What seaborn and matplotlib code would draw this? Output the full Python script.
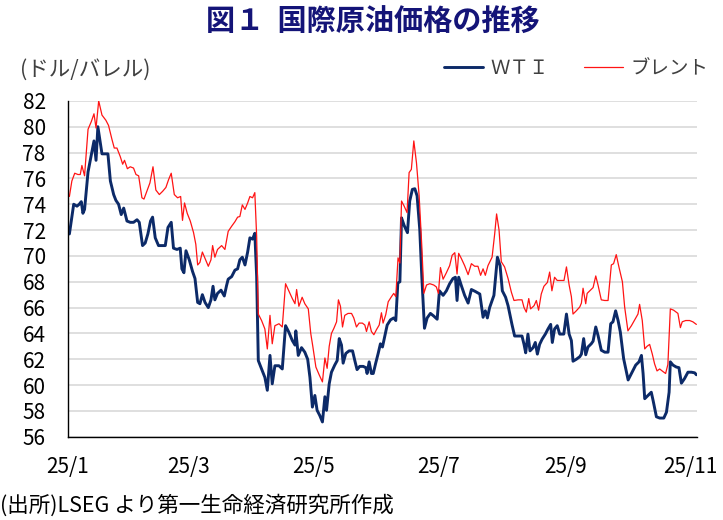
import pandas as pd
import numpy as np
import matplotlib.pyplot as plt
import seaborn as sns

# days counted from 2025-01-01, values in USD/bbl
wti_days = [0.7, 2.8, 4.4, 5.5, 6.5, 7.3, 8.1, 9.8, 11.4, 12.7, 13.7, 14.6, 16.6, 19.5, 20.7,
            22.3, 23.4, 24.7, 26.0, 27.2, 28.8, 30.4, 32.0, 33.7, 34.8, 36.4, 37.7, 39.0, 40.3,
            41.3, 42.6, 44.2, 47.5, 48.8, 50.4, 51.5, 53.2, 54.8, 55.6, 56.6, 57.6, 59.2, 60.8,
            62.0, 63.3, 64.4, 65.6, 66.9, 68.5, 69.8, 70.8, 71.7, 73.0, 74.7, 76.3, 77.4, 78.2,
            79.9, 81.5, 82.8, 83.9, 85.1, 86.4, 87.7, 88.8, 90.1, 91.2, 92.1, 92.9, 94.5, 96.1,
            97.3, 98.6, 99.7, 101.0, 103.0, 104.6, 106.2, 107.8, 109.5, 110.8, 111.2, 112.4,
            114.0, 115.6, 117.0, 118.1, 119.3, 120.5, 121.6, 122.9, 124.2, 125.4, 126.2, 127.5,
            128.6, 130.2, 131.4, 132.4, 133.5, 134.3, 135.6, 137.2, 138.9, 140.0, 141.1, 142.4,
            144.1, 145.4, 146.0, 147.0, 148.1, 149.0, 150.2, 151.4, 152.5, 153.5, 154.6, 155.8,
            157.4, 159.0, 160.0, 161.0, 162.0, 162.8, 164.1, 165.7, 166.8, 168.1, 169.3, 170.4,
            171.7, 172.7, 174.0, 175.3, 176.9, 178.5, 180.2, 181.3, 183.1, 184.7, 186.3, 187.9,
            189.1, 189.9, 190.7, 192.0, 193.6, 195.3, 196.9, 198.8, 201.0, 202.6, 203.7, 204.7,
            205.8, 207.9, 209.6, 210.9, 212.0, 213.6, 214.8, 216.7, 218.0, 219.7, 221.6, 222.6,
            223.4, 224.5, 225.5, 227.0, 228.1, 229.1, 230.2, 231.4, 233.0, 234.3, 235.6, 236.4,
            237.5, 238.8, 240.0, 242.0, 243.3, 244.6, 245.7, 246.5, 248.1, 249.8, 250.6, 251.7,
            252.7, 253.8, 255.4, 256.3, 257.6, 258.7, 260.3, 262.0, 263.6, 264.9, 266.0, 267.3,
            268.5, 269.6, 271.2, 273.4, 275.0, 277.1, 278.7, 279.9, 280.7, 281.5, 283.1, 284.7,
            285.6, 287.2, 288.8, 290.8, 292.1, 293.4, 294.0, 295.3, 296.9, 298.2, 299.4, 300.9,
            302.6, 304.3, 305.9, 306.7]
wti = [71.7, 74.0, 73.85, 74.0, 74.2, 73.3, 73.6, 76.5, 77.8, 78.9, 77.4, 80.0, 77.9, 77.9, 75.8,
       74.75, 74.3, 74.0, 73.2, 73.7, 72.7, 72.6, 72.6, 72.8, 72.6, 70.8, 71.0, 71.7, 72.7,
       73.0, 71.4, 70.8, 70.8, 72.2, 72.6, 70.6, 70.5, 70.6, 69.0, 68.7, 70.4, 69.7, 68.8,
       68.25, 66.4, 66.3, 67.0, 66.4, 66.0, 66.6, 67.65, 66.6, 67.1, 67.35, 66.9, 67.7, 68.2,
       68.4, 68.9, 69.0, 69.7, 69.9, 69.3, 70.3, 71.4, 71.3, 71.75, 68.4, 61.9, 61.25, 60.6,
       59.6, 62.3, 60.1, 61.5, 61.5, 61.25, 64.6, 64.1, 63.45, 63.1, 64.2, 62.3,
       62.9, 62.55, 62.0, 60.6, 58.3, 59.2, 58.05, 57.65, 57.15, 59.1, 58.05, 60.1,
       61.0, 61.55, 61.9, 63.6, 63.1, 61.7, 62.45, 62.65, 62.65, 61.9, 61.2, 61.45,
       61.45, 61.35, 60.9, 61.8, 60.9, 60.9, 61.7, 62.45, 63.2, 62.95, 63.75, 64.65,
       65.05, 65.2, 65.0, 67.9, 68.0, 72.95, 72.35, 71.8, 74.25, 75.15, 75.2, 74.65,
       72.05, 68.4, 64.4, 65.2, 65.55, 65.35, 65.1, 67.3, 66.95, 67.3, 67.85, 68.25,
       68.35, 66.55, 68.35, 67.7, 66.95, 66.35, 67.4, 67.25, 67.05, 65.25, 65.75, 65.2,
       66.0, 66.95, 69.9, 69.25, 67.3, 66.8, 66.15, 64.7, 63.8, 63.8, 63.8, 63.15,
       62.5, 63.95, 62.65, 62.9, 63.3, 62.4, 63.15, 63.55, 63.95, 64.35, 64.7, 63.3,
       64.35, 64.6, 63.95, 63.95, 65.5, 63.95, 63.45, 61.85, 62.0, 62.2, 62.4, 63.6,
       62.35, 62.95, 63.2, 63.4, 64.5, 63.85, 62.7, 62.55, 62.55, 64.75, 64.9, 65.75,
       65.0, 64.1, 62.05, 60.4, 60.9, 61.55, 61.8, 62.3, 60.9, 58.95, 59.2, 59.45,
       58.8, 57.55, 57.45, 57.45, 57.9, 59.45, 61.8, 61.55, 61.4, 61.35, 60.15, 60.5,
       61.0, 61.0, 60.95, 60.8]

brent_days = [0.7, 1.9, 3.3, 4.9, 6.0, 6.8, 8.1, 9.8, 11.4, 12.7, 13.7, 15.0, 16.6, 18.5, 19.8,
              21.5, 22.6, 23.9, 25.5, 26.7, 27.6, 29.0, 30.4, 32.0, 33.2, 34.5, 36.1, 37.1, 38.5,
              40.0, 41.5, 42.9, 44.6, 46.2, 47.8, 49.1, 50.4, 51.9, 53.5, 55.0, 55.9, 56.9, 58.2,
              59.7, 61.3, 62.4, 63.3, 64.4, 65.6, 66.9, 68.5, 69.8, 70.6, 71.7, 73.0, 75.0, 76.6,
              78.2, 79.9, 81.5, 82.8, 83.9, 85.1, 86.4, 87.7, 88.8, 90.1, 91.2, 92.1, 92.9, 94.5,
              96.1, 97.3, 98.6, 99.7, 101.0, 103.0, 104.6, 106.2, 107.8, 109.5, 110.8, 111.6,
              112.7, 114.3, 115.6, 117.3, 118.5, 119.5, 121.0, 122.6, 124.2, 125.4, 126.5, 127.5,
              128.6, 129.8, 131.1, 132.0, 133.0, 134.0, 135.1, 136.7, 138.4, 139.5, 140.8, 142.1,
              143.7, 144.9, 145.7, 147.0, 148.1, 149.3, 150.6, 151.9, 153.0, 153.8, 155.1, 156.3,
              157.9, 159.0, 160.0, 161.1, 162.0, 162.8, 164.1, 165.5, 166.5, 167.6, 168.8, 170.1,
              171.4, 172.7, 173.7, 175.0, 176.6, 178.5, 179.8, 180.8, 181.8, 183.1, 184.7, 186.3,
              187.5, 188.8, 189.9, 190.7, 192.0, 193.6, 195.3, 196.9, 198.5, 200.1, 201.4, 202.6,
              203.7, 205.0, 207.0, 208.3, 209.2, 210.4, 211.5, 213.1, 214.8, 216.4, 217.7, 219.7,
              221.6, 222.6, 223.7, 224.9, 225.8, 227.5, 228.6, 229.7, 231.0, 232.3, 234.0, 235.1,
              236.2, 237.5, 238.8, 240.5, 242.1, 243.3, 244.6, 245.7, 246.5, 248.1, 249.8, 250.6,
              251.4, 252.7, 253.4, 255.0, 256.3, 257.6, 258.7, 260.3, 262.0, 263.6, 265.2, 266.3,
              267.6, 268.9, 270.6, 271.7, 273.3, 275.0, 276.6, 278.2, 279.0, 280.3, 281.5, 282.6,
              283.9, 285.2, 286.3, 287.5, 288.8, 290.4, 291.7, 292.8, 294.0, 295.6, 297.7, 298.9,
              299.8, 301.5, 303.4, 305.0, 306.7]
brent = [74.6, 75.8, 76.4, 76.3, 76.3, 77.0, 76.2, 79.8, 80.4, 81.0, 79.9, 82.0, 80.9, 80.5, 80.1,
         79.0, 78.35, 78.35, 77.7, 77.1, 77.4, 76.75, 76.9, 76.8, 76.3, 76.2, 74.5, 74.4, 75.0,
         75.65, 76.9, 75.1, 74.75, 75.0, 75.3, 75.9, 76.4, 74.75, 74.5, 74.6, 72.75, 74.1, 73.3,
         72.7, 71.8, 70.9, 69.3, 69.5, 70.3, 69.8, 69.2, 69.7, 70.8, 69.9, 70.5, 70.8, 70.5,
         71.9, 72.3, 72.65, 73.0, 73.05, 73.95, 73.6, 74.1, 74.6, 74.5, 74.9, 71.5, 65.5, 65.0,
         64.35, 62.8, 65.4, 63.2, 64.6, 64.75, 64.5, 67.85, 67.3, 66.7, 66.3, 67.4,
         66.1, 66.8, 66.3, 65.9, 64.0, 63.0, 61.4, 60.8, 60.25, 62.1, 61.3, 63.0,
         64.0, 64.4, 64.9, 66.6, 66.1, 64.5, 65.4, 65.55, 65.55, 65.2, 64.5, 64.8,
         64.8, 64.65, 64.15, 64.9, 64.15, 63.9, 64.3, 64.65, 65.6, 64.8, 65.45, 66.45,
         66.85, 67.1, 66.85, 69.85, 69.45, 74.25, 73.85, 73.35, 76.45, 76.7, 78.9, 77.2,
         74.65, 70.75, 67.1, 67.75, 67.85, 67.75, 67.6, 67.1, 69.1, 68.2, 68.7, 69.25,
         70.05, 70.25, 68.6, 70.2, 69.8, 69.25, 68.55, 69.4, 69.2, 69.2, 68.5, 69.0,
         68.5, 69.25, 69.9, 71.75, 73.25, 72.0, 69.55, 69.15, 68.25, 67.2, 66.55, 66.6,
         66.6, 66.0, 65.65, 66.7, 65.9, 66.15, 66.55, 65.8, 67.05, 67.65, 67.95, 68.75,
         67.3, 68.35, 68.1, 68.1, 68.1, 69.15, 67.75, 66.85, 65.5, 65.75, 66.05, 66.35,
         67.5, 66.3, 67.1, 67.35, 67.55, 68.45, 67.75, 66.6, 66.55, 66.55, 69.3, 69.4,
         70.1, 69.15, 68.0, 66.05, 64.2, 64.6, 65.05, 65.5, 66.25, 65.0, 62.8, 63.0,
         63.15, 62.4, 61.65, 61.1, 61.25, 61.05, 60.9, 61.6, 65.9, 65.8, 65.55, 64.45,
         64.9, 65.0, 65.0, 64.9, 64.7]

start = pd.Timestamp("2025-01-01")
df_wti = pd.DataFrame({"date": start + pd.to_timedelta(wti_days, unit="D"), "price": wti})
df_brent = pd.DataFrame({"date": start + pd.to_timedelta(brent_days, unit="D"), "price": brent})

sns.set_style("white")
plt.rcParams["font.family"] = ["Noto Sans CJK JP", "DejaVu Sans"]

fig = plt.figure(figsize=(7.23, 5.20), dpi=100)
ax = fig.add_axes([0.094, 0.160, 0.870, 0.646])

sns.lineplot(data=df_wti, x="date", y="price", ax=ax, color="#0c2a68", linewidth=2.1, label="ＷＴＩ")
sns.lineplot(data=df_brent, x="date", y="price", ax=ax, color="#ff1414", linewidth=0.9, label="ブレント")

ax.set_ylim(56, 82)
ax.set_yticks(np.arange(56, 83, 2))
ax.set_xlim(start, start + pd.Timedelta(days=307))
ticks = pd.to_datetime(["2025-01-01", "2025-03-01", "2025-05-01", "2025-07-01", "2025-09-01", "2025-11-01"])
ax.set_xticks(ticks)
ax.set_xticklabels(["25/1", "25/3", "25/5", "25/7", "25/9", "25/11"])
ax.set_xlabel("")
ax.set_ylabel("")

ax.grid(axis="y", color="#d9d9d9", linewidth=1.2)
ax.set_axisbelow(True)
for s in ["top", "right"]:
    ax.spines[s].set_visible(False)
for s in ["left", "bottom"]:
    ax.spines[s].set_color("black")
    ax.spines[s].set_linewidth(1.0)
ax.tick_params(axis="x", direction="in", length=6, width=0.8, pad=14, labelsize=15, colors="black")
ax.tick_params(axis="y", length=0, pad=16, labelsize=15, colors="black")

leg = ax.legend(loc="center", bbox_to_anchor=(0.797, 0.868), bbox_transform=fig.transFigure,
                ncol=2, frameon=False, handlelength=2.0, handletextpad=0.4, columnspacing=1.8,
                fontsize=14)
for t in leg.get_texts():
    t.set_color("#404040")

fig.text(0.515, 0.957, "図１  国際原油価格の推移", ha="center", va="center", fontsize=21,
         fontweight="bold", color="#141478")
fig.text(0.028, 0.865, "(ドル/バレル)", ha="left", va="center", fontsize=15.5, color="#404040")
fig.text(0.0, 0.028, "(出所)LSEG より第一生命経済研究所作成", ha="left", va="center", fontsize=15.5,
         color="black")

fig.savefig("out.png", dpi=100)
